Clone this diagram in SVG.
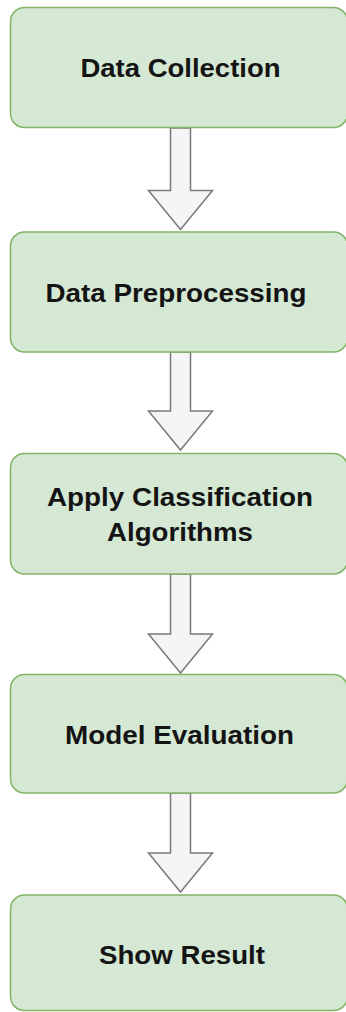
<svg xmlns="http://www.w3.org/2000/svg" width="346" height="1012" viewBox="0 0 346 1012">
<style>
.box{fill:#d5e8d4;stroke:#82b366;stroke-width:1.5}
.lbl{font-family:"Liberation Sans",Arial,sans-serif;font-weight:bold;font-size:25px;fill:#141414;text-anchor:middle}
.arr{fill:#f5f5f5;stroke:#7a7a7a;stroke-width:1.5;stroke-linejoin:miter}
</style>
<rect width="346" height="1012" fill="#ffffff"/>
<g id="connectors">
<path class="arr" d="M170.5,128 H190.5 V190.5 H212.5 L180.5,229.5 L148.5,190.5 H170.5 Z"/>
<path class="arr" d="M170.5,352 H190.5 V411 H212.5 L180.5,450 L148.5,411 H170.5 Z"/>
<path class="arr" d="M170.5,574 H190.5 V634 H212.5 L180.5,673 L148.5,634 H170.5 Z"/>
<path class="arr" d="M170.5,793 H190.5 V853 H212.5 L180.5,892 L148.5,853 H170.5 Z"/>
</g>
<g id="n1"><rect class="box" x="10.5" y="7.5" width="337" height="120" rx="14"/><text class="lbl" x="180.5" y="76.5" textLength="200" lengthAdjust="spacingAndGlyphs">Data Collection</text></g>
<g id="n2"><rect class="box" x="10.5" y="232" width="337" height="120" rx="14"/><text class="lbl" x="176" y="301.5" textLength="261" lengthAdjust="spacingAndGlyphs">Data Preprocessing</text></g>
<g id="n3"><rect class="box" x="10.5" y="453.5" width="337" height="120.5" rx="14"/><text class="lbl" x="180" y="506" textLength="266" lengthAdjust="spacingAndGlyphs">Apply Classification</text><text class="lbl" x="180" y="541" textLength="146" lengthAdjust="spacingAndGlyphs">Algorithms</text></g>
<g id="n4"><rect class="box" x="10.5" y="674.5" width="337" height="118.5" rx="14"/><text class="lbl" x="179.5" y="744" textLength="229" lengthAdjust="spacingAndGlyphs">Model Evaluation</text></g>
<g id="n5"><rect class="box" x="10.5" y="895" width="337" height="115.5" rx="14"/><text class="lbl" x="182" y="964" textLength="166" lengthAdjust="spacingAndGlyphs">Show Result</text></g>
</svg>
